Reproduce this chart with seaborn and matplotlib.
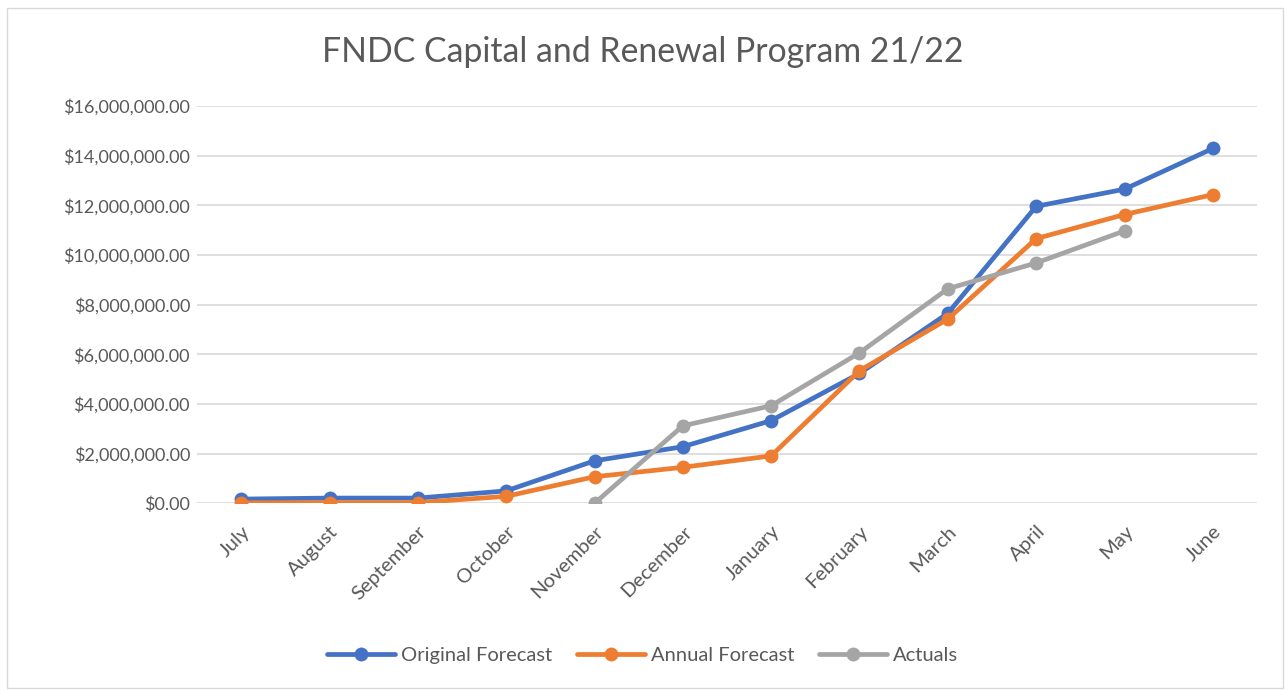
import matplotlib
matplotlib.use("Agg")
import matplotlib.pyplot as plt
import matplotlib.patches as mpatches
import seaborn as sns
import pandas as pd
import numpy as np
from matplotlib.ticker import FuncFormatter, MultipleLocator

months = ["July", "August", "September", "October", "November", "December",
          "January", "February", "March", "April", "May", "June"]
original_forecast = [170000, 210000, 210000, 500000, 1710000, 2280000,
                     3330000, 5230000, 7650000, 11960000, 12650000, 14290000]
annual_forecast = [20000, 30000, 30000, 280000, 1070000, 1450000,
                   1910000, 5340000, 7420000, 10660000, 11630000, 12430000]
actuals = [None, None, None, None, 0, 3120000,
           3930000, 6060000, 8640000, 9680000, 10970000, None]
series_names = ["Original Forecast", "Annual Forecast", "Actuals"]
colors = ["#4472C4", "#ED7D31", "#A5A5A5"]

rows = []
for name, vals in zip(series_names, [original_forecast, annual_forecast, actuals]):
    for i, v in enumerate(vals):
        if v is not None:
            rows.append({"pos": i, "Series": name, "Value": v})
df = pd.DataFrame(rows)

sns.set_style("white")
plt.rcParams["font.family"] = ["Lato", "DejaVu Sans"]

fig = plt.figure(figsize=(12.85, 6.91), dpi=100)
ax = fig.add_axes([197 / 1285, 1 - 503.3 / 691, (1257 - 197) / 1285, (503.3 - 106) / 691])

# chart border
fig.patches.append(mpatches.Rectangle((7 / 1285, 1 - 688 / 691), 1276 / 1285, (688 - 8) / 691,
                                      transform=fig.transFigure, fill=False,
                                      edgecolor="#D9D9D9", linewidth=1.0))

sns.lineplot(data=df, x="pos", y="Value", hue="Series", hue_order=series_names,
             palette=colors, marker="o", markersize=10, linewidth=3.4,
             markeredgewidth=0, sort=False, estimator=None, ax=ax, zorder=3)

ax.set_xlim(-0.5, len(months) - 0.5)
ax.set_ylim(0, 16000000)
ax.yaxis.set_major_locator(MultipleLocator(2000000))
ax.yaxis.set_major_formatter(FuncFormatter(lambda v, p: f"${v:,.2f}"))
ax.set_xticks(range(len(months)))
ax.set_xticklabels(months, rotation=45, ha="right", rotation_mode="anchor")
ax.tick_params(axis="x", length=0, pad=14, labelsize=14.5, colors="#595959")
ax.tick_params(axis="y", length=0, pad=5, labelsize=13, colors="#595959")
ax.grid(axis="y", color="#D9D9D9", linewidth=1.2)
ax.set_axisbelow(True)
for s in ax.spines.values():
    s.set_visible(False)
ax.set_xlabel("")
ax.set_ylabel("")

fig.text(0.5, 1 - 52 / 691, "FNDC Capital and Renewal Program 21/22", ha="center",
         va="center", fontsize=24.3, color="#595959")

handles, labels = ax.get_legend_handles_labels()
ax.legend(handles, labels, loc="center", bbox_to_anchor=(0.5, 1 - 655 / 691),
          bbox_transform=fig.transFigure, ncol=3, frameon=False, fontsize=14.5,
          labelcolor="#595959", handlelength=3.4, columnspacing=1.2, handletextpad=0.3)

fig.savefig("out.png", dpi=100, facecolor="white")
